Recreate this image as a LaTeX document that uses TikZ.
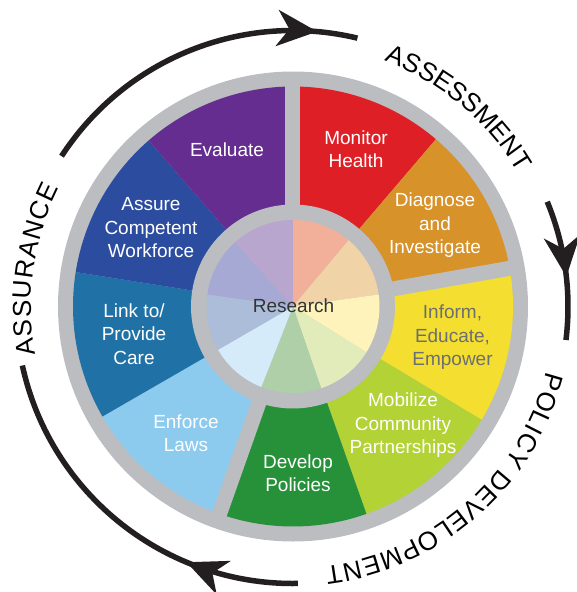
\documentclass[tikz,border=0pt]{standalone}
\usepackage{fontspec}
\setmainfont{Liberation Sans}
\usetikzlibrary{arrows.meta,decorations.markings,decorations.text}

\definecolor{ringgray}{HTML}{BBBDC0}
\definecolor{arcblack}{HTML}{231F20}
\definecolor{researchgray}{HTML}{333333}
\definecolor{informtext}{HTML}{6D6E71}
% outer segments
\definecolor{monitorred}{HTML}{DF1F26}
\definecolor{diagnoseorange}{HTML}{D7922A}
\definecolor{informyellow}{HTML}{F4DF30}
\definecolor{mobilizelime}{HTML}{B2D235}
\definecolor{developgreen}{HTML}{27913A}
\definecolor{enforceblue}{HTML}{8CCBEE}
\definecolor{linkblue}{HTML}{1F71A6}
\definecolor{assureblue}{HTML}{2B4C9F}
\definecolor{evaluatepurple}{HTML}{652D90}
% research wedges
\definecolor{palered}{HTML}{F2B09A}
\definecolor{paleorange}{HTML}{F0D4A8}
\definecolor{paleyellow}{HTML}{FDF3BB}
\definecolor{palelime}{HTML}{E2EBBA}
\definecolor{palegreen}{HTML}{AECFA8}
\definecolor{palesky}{HTML}{D5EBF9}
\definecolor{palelink}{HTML}{ABBDD9}
\definecolor{paleassure}{HTML}{A5A9D3}
\definecolor{palepurple}{HTML}{B9A6CF}

\newcommand\labelfont{\fontsize{19}{23.5}\selectfont}
\newcommand\ringfont{\fontsize{26}{28}\selectfont}

\begin{document}
\begin{tikzpicture}[x=1pt,y=1pt,
  seglabel/.style={text=white,align=center,font=\labelfont},
  cyclearrow/.style={draw=arcblack,line width=5.5pt,postaction={decorate},
    decoration={markings,mark=at position #1 with {\arrow[arcblack]{Stealth[length=40pt,width=36pt,inset=12pt]}}}},
  ringtext/.style={decorate,decoration={text along path,text={|\ringfont|#1},text align=fit to path}}]
\useasboundingbox (-293,-285.5) rectangle (284,306.5);
\coordinate (hub) at (0,0);

% wheel
\fill[ringgray] (hub) circle (235);
\foreach \a/\b/\col in {90/49.5/monitorred,49.5/10/diagnoseorange,10/-31/informyellow,
    -31/-70.5/mobilizelime,-70.5/-109.5/developgreen,250.5/210/enforceblue,
    210/171/linkblue,171/131/assureblue,131/90/evaluatepurple}
  {\fill[\col] (hub) -- (\a:220) arc[start angle=\a,end angle=\b,radius=220] -- cycle;}
\foreach \a in {90,10,250.5}
  {\draw[ringgray,line width=15pt] (hub) -- (\a:228);}

% research hub
\fill[ringgray] (hub) circle (102);
\foreach \a/\b/\col in {90/50/palered,50/8/paleorange,8/-32/paleyellow,
    -32/-71/palelime,-71/-111.5/palegreen,248.5/210/palesky,
    210/172/palelink,172/132/paleassure,132/90/palepurple}
  {\fill[\col] (hub) -- (\a:86.5) arc[start angle=\a,end angle=\b,radius=86.5] -- cycle;}
\node[font=\labelfont,text=researchgray] (research) at (0.5,1) {Research};

% the ten services
\node[seglabel] (evaluate) at (-66,156.5) {Evaluate};
\node[seglabel] (monitor) at (63,157.5) {Monitor\\Health};
\node[seglabel] (diagnose) at (142,81) {Diagnose\\and\\Investigate};
\node[seglabel,text=informtext] (inform) at (159.5,-31) {Inform,\\Educate,\\Empower};
\node[seglabel] (mobilize) at (110,-119) {Mobilize\\Community\\Partnerships};
\node[seglabel] (develop) at (5,-166.5) {Develop\\Policies};
\node[seglabel] (enforce) at (-107,-126.5) {Enforce\\Laws};
\node[seglabel] (link) at (-159,-27.5) {Link to/\\Provide\\Care};
\node[seglabel] (assure) at (-142,78.5) {Assure\\Competent\\Workforce};

% cycle arrows
\draw[cyclearrow=0.88] (147:276) arc[start angle=147,end angle=76.5,radius=276];
\draw[cyclearrow=0.55] (22.4:275) arc[start angle=22.4,end angle=-7,radius=275];
\draw[cyclearrow=0.30] (-89:277) arc[start angle=-89,end angle=-167.7,radius=277];

% core functions
\path[ringtext=ASSESSMENT] (69.6:262) arc[start angle=69.6,end angle=31.1,radius=262];
\path[ringtext=POLICY DEVELOPMENT] (-14.4:262) arc[start angle=-14.4,end angle=-83,radius=262];
\path[ringtext=ASSURANCE] (190.6:262) arc[start angle=190.6,end angle=153.1,radius=262];
\end{tikzpicture}
\end{document}
